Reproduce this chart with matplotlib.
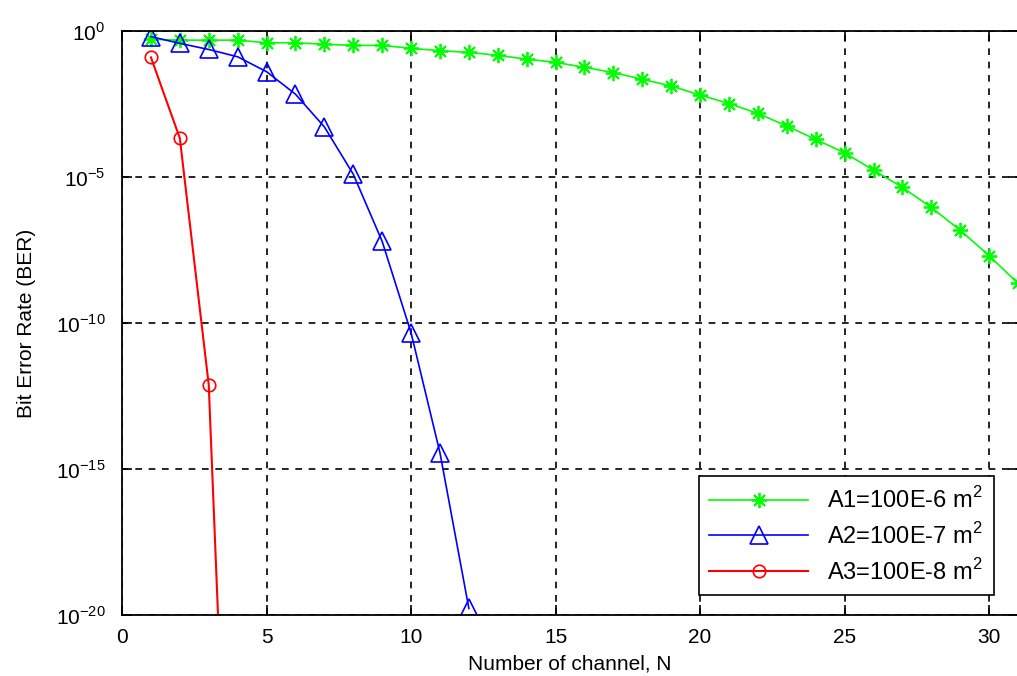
import numpy as np
import matplotlib
matplotlib.use("Agg")
import matplotlib.pyplot as plt
from matplotlib.ticker import FixedLocator, FuncFormatter

plt.rcParams['font.family'] = ['Liberation Sans', 'DejaVu Sans']
plt.rcParams['mathtext.fontset'] = 'custom'
plt.rcParams['mathtext.rm'] = 'Liberation Sans'
plt.rcParams['axes.unicode_minus'] = False

# log10(BER)
n_green = np.arange(1, 32)
log_green = [-0.28, -0.31, -0.31, -0.31, -0.40, -0.40, -0.45, -0.49, -0.49, -0.59,
             -0.67, -0.73, -0.83, -0.96, -1.07, -1.24, -1.42, -1.65, -1.88, -2.19,
             -2.48, -2.82, -3.25, -3.71, -4.17, -4.76, -5.35, -6.04, -6.82, -7.69,
             -8.64]

n_blue = np.arange(1, 13)
log_blue = [-0.19, -0.42, -0.63, -0.88, -1.39, -2.16, -3.28, -4.90, -7.20, -10.33,
            -14.44, -19.77]

n_red = np.arange(1, 5)
log_red = [-0.90, -3.67, -12.12, -36.7]

labels = ['A1=100E-6 m$^2$', 'A2=100E-7 m$^2$', 'A3=100E-8 m$^2$']

fig = plt.figure(figsize=(10.17, 6.76), dpi=100)
ax = fig.add_axes([0.12, 0.09, 0.881, 0.864])

ax.semilogy(n_green, 10.0 ** np.array(log_green), color='#00ff00', marker=(8, 2, 0),
            markersize=11, markeredgewidth=1.3, linewidth=1.2, label=labels[0])
ax.semilogy(n_blue, 10.0 ** np.array(log_blue), color='#0000ff', marker='^',
            markersize=13, markerfacecolor='none', markeredgewidth=1.2,
            linewidth=1.2, label=labels[1])
ax.semilogy(n_red, 10.0 ** np.array(log_red), color='#ff0000', marker='o',
            markersize=9, markerfacecolor='none', markeredgewidth=1.2,
            linewidth=1.5, label=labels[2])

ax.set_xlim(0, 31)
ax.set_ylim(1e-20, 1e0)
ax.set_xticks([0, 5, 10, 15, 20, 25, 30])
ax.yaxis.set_major_locator(FixedLocator([1e-20, 1e-15, 1e-10, 1e-5, 1e0]))
ax.yaxis.set_minor_locator(FixedLocator([]))
ax.yaxis.set_major_formatter(FuncFormatter(lambda v, p: '10$^{%d}$' % round(np.log10(v))))
ax.tick_params(direction='in', length=7, width=1.2, labelsize=15, top=True, right=True)
ax.tick_params(axis='x', pad=9)
ax.tick_params(axis='y', pad=12)
ax.tick_params(axis='both', which='minor', length=0)

ax.grid(True, color='black', linestyle=(0, (4, 4)), linewidth=1.2)

for s in ax.spines.values():
    s.set_linewidth(1.3)

ax.set_xlabel('Number of channel, N', fontsize=15, labelpad=6)
ax.set_ylabel('Bit Error Rate (BER)', fontsize=15, labelpad=14)

leg = ax.legend(loc='lower right', bbox_to_anchor=(0.986, 0.014), fontsize=17,
                fancybox=False, framealpha=1, edgecolor='black',
                handlelength=4.2, borderpad=0.45, labelspacing=0.42)
leg.get_frame().set_linewidth(1.2)

fig.savefig('out.png', dpi=100)
